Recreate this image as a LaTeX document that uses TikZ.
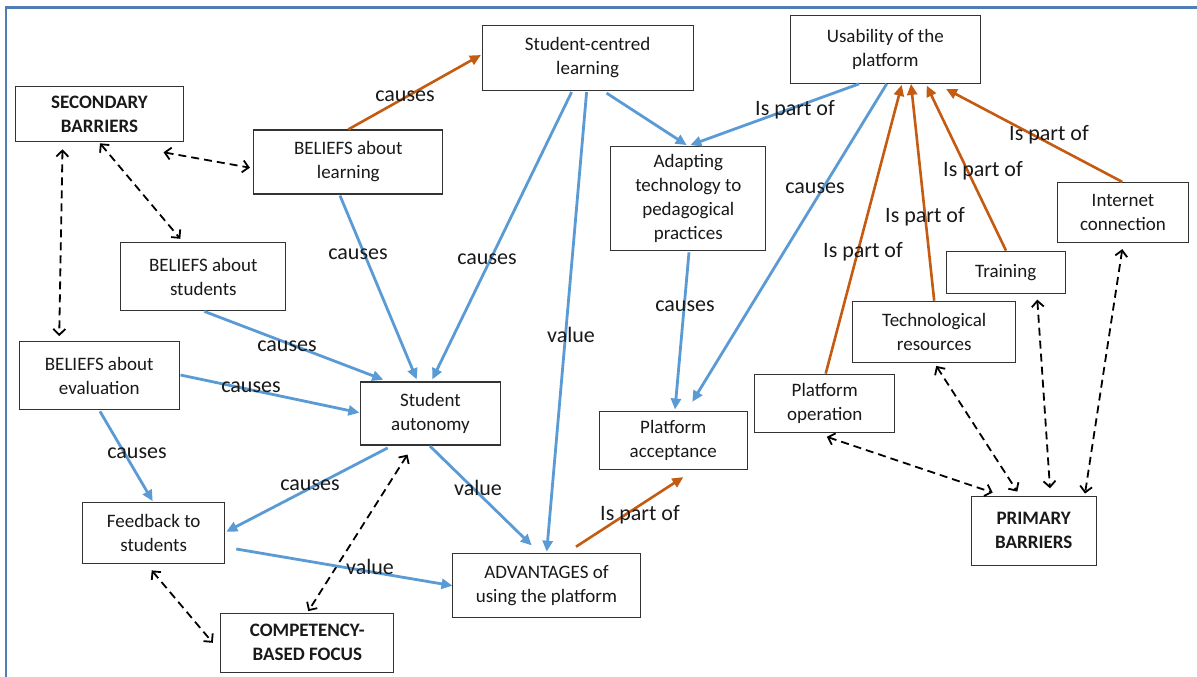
\documentclass[tikz,border=0pt]{standalone}
\usepackage{fontspec}
\setmainfont{Carlito}
\usetikzlibrary{arrows.meta}
\definecolor{cblue}{RGB}{91,155,213}
\definecolor{corange}{RGB}{197,90,17}
\definecolor{cframe}{RGB}{79,125,181}
\begin{document}
\begin{tikzpicture}[x=1pt,y=-1pt,
 box/.style={draw=black!80, line width=1.2pt, rectangle, inner sep=0pt, align=center, font=\fontsize{19}{24}\selectfont, text=black!90},
 bbox/.style={box, font=\fontsize{19}{24}\selectfont\bfseries},
 lbl/.style={font=\fontsize{22}{26}\selectfont, inner sep=0pt, text=black!90},
 bluearr/.style={draw=cblue, line width=2.8pt, -{Triangle[length=11pt,width=10pt]}},
 orarr/.style={draw=corange, line width=2.6pt, -{Triangle[length=11pt,width=10pt]}},
 dbl/.style={draw=black, line width=1.8pt, dash pattern=on 8pt off 5pt, {Straight Barb[length=6pt,width=12pt]}-{Straight Barb[length=6pt,width=12pt]}}
]
\useasboundingbox (0,0) rectangle (1197,677);
\fill[white] (0,0) rectangle (1197,677);
\draw[cframe, line width=2.5pt] (6,690) -- (6,7.5) -- (1210,7.5);

% nodes
\node[bbox, minimum width=168pt, minimum height=55pt] (sb) at (99.5,114.2) {SECONDARY\\BARRIERS};
\node[box, minimum width=189pt, minimum height=64pt] (bl) at (348.3,162) {BELIEFS about\\learning};
\node[box, minimum width=211pt, minimum height=65pt] (scl) at (587.6,58) {Student-centred\\learning};
\node[box, minimum width=190pt, minimum height=68pt] (us) at (885.3,49.3) {Usability of the\\platform};
\node[box, minimum width=155pt, minimum height=104pt] (ad) at (688.3,198.7) {Adapting\\technology to\\pedagogical\\practices};
\node[box, minimum width=165pt, minimum height=68pt] (bs) at (203.3,276.8) {BELIEFS about\\students};
\node[box, minimum width=160pt, minimum height=68pt] (be) at (99.2,375.8) {BELIEFS about\\evaluation};
\node[box, minimum width=140pt, minimum height=63pt] (sa) at (430.5,413.5) {Student\\autonomy};
\node[box, minimum width=148pt, minimum height=58pt] (pa) at (673.3,440.8) {Platform\\acceptance};
\node[box, minimum width=140pt, minimum height=58pt] (po) at (824.8,403.2) {Platform\\operation};
\node[box, minimum width=163pt, minimum height=61pt] (tr) at (934.2,331.8) {Technological\\resources};
\node[box, minimum width=119pt, minimum height=42pt] (tn) at (1005.7,272.2) {Training};
\node[box, minimum width=131pt, minimum height=60pt] (ic) at (1123,212.5) {Internet\\connection};
\node[bbox, minimum width=125pt, minimum height=69pt] (pb) at (1033.7,530.7) {PRIMARY\\BARRIERS};
\node[box, minimum width=142pt, minimum height=61pt] (fb) at (153.7,533.3) {Feedback to\\students};
\node[box, minimum width=188pt, minimum height=64pt] (adv) at (546.5,585.3) {ADVANTAGES of\\using the platform};
\node[bbox, minimum width=173pt, minimum height=59pt] (cbf) at (307.3,642.8) {COMPETENCY-\\BASED FOCUS};

% dashed double arrows
\draw[dbl] ([shift={(-37,7)}]sb.south) -- ([shift={(-40,-5)}]be.north);
\draw[dbl] ([shift={(0.5,1)}]sb.south) -- ([shift={(-23,-3.4)}]bs.north);
\draw[dbl] ([shift={(64,10)}]sb.south) -- ([shift={(-3.3,5.7)}]bl.west);
\draw[dbl] ([shift={(-2,6)}]fb.south) -- ([shift={(-7.4,0)}]cbf.west);
\draw[dbl] ([shift={(-23,9)}]sa.south) -- ([shift={(1,-1.6)}]cbf.north);
\draw[dbl] ([shift={(2,4)}]po.south) -- ([shift={(-41,-3)}]pb.north);
\draw[dbl] ([shift={(2,3)}]tr.south) -- ([shift={(-16.4,-4)}]pb.north);
\draw[dbl] ([shift={(31.6,5.8)}]tn.south) -- ([shift={(16.3,-7.3)}]pb.north);
\draw[dbl] ([shift={(-0.7,6)}]ic.south) -- ([shift={(51.3,-2)}]pb.north);

% blue arrows
\draw[bluearr] ([shift={(-8.3,1)}]bl.south) -- ([shift={(-13.8,-2)}]sa.north);
\draw[bluearr] ([shift={(-16,1)}]scl.south) -- ([shift={(1.8,-2)}]sa.north);
\draw[bluearr] ([shift={(-1,1)}]scl.south) -- ([shift={(0.2,-1)}]adv.north);
\draw[bluearr] ([shift={(19,2)}]scl.south) -- ([shift={(-1.6,-1)}]ad.north);
\draw[bluearr] ([shift={(-26.3,0)}]us.south) -- ([shift={(2,-1)}]ad.north);
\draw[bluearr] ([shift={(1.4,0)}]us.south) -- ([shift={(19,-9.4)}]pa.north);
\draw[bluearr] ([shift={(0.7,1)}]ad.south) -- ([shift={(1.7,-1.7)}]pa.north);
\draw[bluearr] ([shift={(1,0)}]bs.south) -- ([shift={(-47.2,-1.7)}]sa.north);
\draw[bluearr] ([shift={(0.7,-0.8)}]be.east) -- ([shift={(-0.5,-0.8)}]sa.west);
\draw[bluearr] ([shift={(0.8,1)}]be.south) -- ([shift={(-1,-1)}]fb.north);
\draw[bluearr] ([shift={(-42.8,2.3)}]sa.south) -- ([shift={(1,-1.6)}]fb.east);
\draw[bluearr] ([shift={(-0.5,0.5)}]sa.south) -- ([shift={(-14.8,-7.3)}]adv.north);
\draw[bluearr] ([shift={(11,15.7)}]fb.east) -- ([shift={(0.6,0.4)}]adv.west);

% orange arrows
\draw[orarr] (bl.north) -- ([shift={(-0.6,-3)}]scl.west);
\draw[orarr] ([shift={(29.5,-6)}]adv.north) -- ([shift={(10,6.7)}]pa.south);
\draw[orarr] ([shift={(0.9,0)}]po.north) -- ([shift={(16.4,1)}]us.south);
\draw[orarr] (tr.north) -- ([shift={(25.7,0)}]us.south);
\draw[orarr] ([shift={(0.3,0)}]tn.north) -- ([shift={(41.4,1.7)}]us.south);
\draw[orarr] ([shift={(-0.7,0)}]ic.north) -- ([shift={(60.7,5)}]us.south);

% labels
\node[lbl] (l1) at (405,96) {causes};
\node[lbl] (l2) at (358,254) {causes};
\node[lbl] (l3) at (487,259) {causes};
\node[lbl] (l4) at (571,335) {value};
\node[lbl] (l5) at (795,110) {Is part of};
\node[lbl] (l6) at (815,188) {causes};
\node[lbl] (l7) at (1049,135) {Is part of};
\node[lbl] (l8) at (983,171) {Is part of};
\node[lbl] (l9) at (925,217) {Is part of};
\node[lbl] (l10) at (863,252) {Is part of};
\node[lbl] (l11) at (685,306) {causes};
\node[lbl] (l12) at (287,346) {causes};
\node[lbl] (l13) at (251,387) {causes};
\node[lbl] (l14) at (137,453) {causes};
\node[lbl] (l15) at (310,485) {causes};
\node[lbl] (l16) at (478,488) {value};
\node[lbl] (l17) at (370,567) {value};
\node[lbl] (l18) at (640,515) {Is part of};
\end{tikzpicture}
\end{document}
